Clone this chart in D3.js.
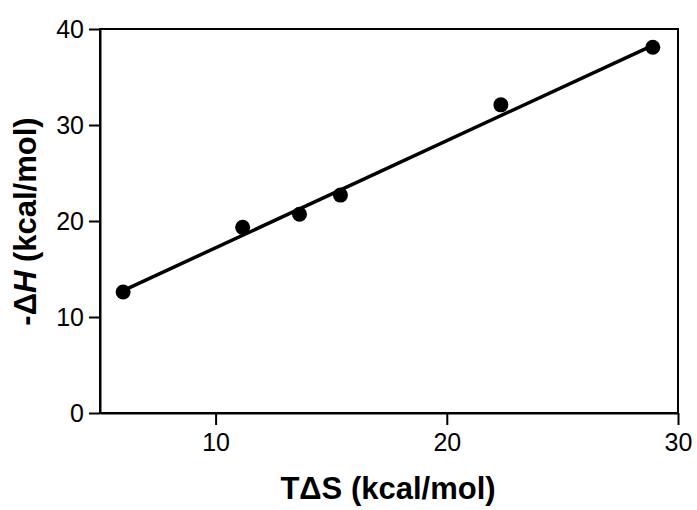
<!DOCTYPE html>
<html><head><meta charset="utf-8">
<script src="https://cdn.jsdelivr.net/npm/d3@7"></script>
<style>body{margin:0;background:#fff}svg{display:block}</style>
</head><body>
<script>
const tdsValues = [6.0, 11.17, 13.63, 15.40, 22.34, 28.91];
const dhValues = [12.6, 19.34, 20.7, 22.7, 32.1, 38.1];
const fitX = [6.0, 28.91];
const fitY = [12.75, 38.3];
const xTicks = [10, 20, 30];
const yTicks = [0, 10, 20, 30, 40];

const W = 697, H = 510;
const m = {left: 100, top: 29, right: 19, bottom: 97};
const svg = d3.select("body").append("svg").attr("width", W).attr("height", H);
const x = d3.scaleLinear().domain([5, 30]).range([m.left, W - m.right]);
const y = d3.scaleLinear().domain([0, 40]).range([H - m.bottom, m.top]);
const font = "'Liberation Sans', Arial, sans-serif";

// frame
svg.append("rect").attr("x", x(5)).attr("y", y(40)).attr("width", x(30) - x(5)).attr("height", y(0) - y(40))
  .attr("fill", "none").attr("stroke", "#000").attr("stroke-width", 2);

const xAxis = svg.append("g").attr("transform", `translate(0,${y(0)})`)
  .call(d3.axisBottom(x).tickValues(xTicks).tickSize(12).tickPadding(8).tickSizeOuter(0));
const yAxis = svg.append("g").attr("transform", `translate(${x(5)},0)`)
  .call(d3.axisLeft(y).tickValues(yTicks).tickSize(11).tickPadding(5).tickSizeOuter(0));
[xAxis, yAxis].forEach(g => {
  g.select(".domain").attr("stroke-width", 2);
  g.selectAll(".tick line").attr("stroke-width", 2);
  g.selectAll(".tick text").attr("font-family", font).attr("font-size", 25).attr("fill", "#000");
});

// fit line
svg.append("line")
  .attr("x1", x(fitX[0])).attr("y1", y(fitY[0]))
  .attr("x2", x(fitX[1])).attr("y2", y(fitY[1]))
  .attr("stroke", "#000").attr("stroke-width", 3.5);

// points
svg.selectAll("circle.pt").data(tdsValues.map((v, i) => [v, dhValues[i]]))
  .enter().append("circle").attr("class", "pt")
  .attr("cx", d => x(d[0])).attr("cy", d => y(d[1])).attr("r", 7.5).attr("fill", "#000");

// axis titles
svg.append("text").attr("x", 388).attr("y", 499).attr("text-anchor", "middle")
  .attr("font-family", font).attr("font-weight", "bold").attr("font-size", 31)
  .text("TΔS (kcal/mol)");
const yt = svg.append("text").attr("transform", "translate(36,221.5) rotate(-90)").attr("text-anchor", "middle")
  .attr("font-family", font).attr("font-weight", "bold").attr("font-size", 31);
yt.append("tspan").text("-Δ");
yt.append("tspan").attr("font-style", "italic").text("H");
yt.append("tspan").text(" (kcal/mol)");
</script>
</body></html>
